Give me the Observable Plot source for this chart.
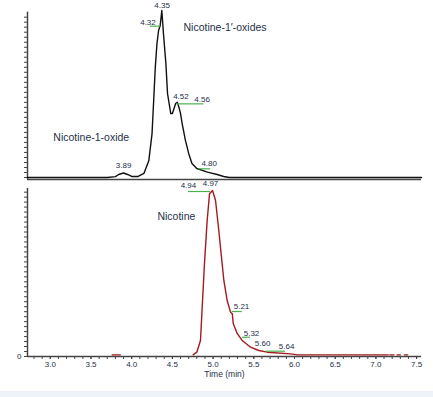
<!DOCTYPE html>
<html>
<head>
<meta charset="utf-8">
<script src="https://cdn.jsdelivr.net/npm/d3@7"></script>
<script src="https://cdn.jsdelivr.net/npm/@observablehq/plot@0.6"></script>
<style>
  html, body { margin: 0; padding: 0; background: #fff; }
  #wrap { position: relative; width: 433px; height: 397px; overflow: hidden; font-family: "Liberation Sans", Arial, sans-serif; }
  #top { position: absolute; left: 0; top: 0; }
  #bottom { position: absolute; left: 0; top: 182px; }
  #band { position: absolute; left: 0; top: 391px; width: 433px; height: 6px; background: #eef2f9; }
</style>
</head>
<body>
<div id="wrap">
  <div id="top"></div>
  <div id="bottom"></div>
  <div id="band"></div>
</div>
<script>
// ---- Data ----
// Upper trace: Nicotine N-oxides (relative intensity)
const topTime   = [2.72, 3.70, 3.80, 3.84, 3.90, 3.95, 4.00, 4.08, 4.15, 4.21, 4.25, 4.27, 4.29, 4.31, 4.33, 4.35, 4.37, 4.39, 4.42, 4.44, 4.48, 4.50, 4.54, 4.56, 4.58, 4.60, 4.62, 4.66, 4.70, 4.74, 4.80, 4.93, 5.05, 5.13, 5.20, 7.56];
const topSignal = [0, 0, 0.005, 0.018, 0.027, 0.018, 0.006, 0.006, 0.024, 0.10, 0.263, 0.461, 0.66, 0.80, 0.88, 0.91, 1.0, 0.862, 0.683, 0.503, 0.383, 0.383, 0.443, 0.451, 0.421, 0.383, 0.323, 0.222, 0.144, 0.084, 0.054, 0.032, 0.018, 0.006, 0, 0];

// Lower trace: Nicotine (relative intensity); null = gap in the trace
const bottomTime   = [3.76, 3.86, 3.87, 4.755, 4.80, 4.845, 4.866, 4.894, 4.927, 4.956, 4.993, 5.03, 5.07, 5.103, 5.132, 5.173, 5.214, 5.236, 5.247, 5.296, 5.358, 5.46, 5.562, 5.665, 5.95, 6.04, 7.15, 7.16, 7.17, 7.22, 7.23, 7.26, 7.30, 7.31, 7.35, 7.39];
const bottomSignal = [0.01, 0.01, null, 0.01, 0.026, 0.096, 0.297, 0.56, 0.819, 0.98, 1.0, 0.94, 0.759, 0.598, 0.458, 0.337, 0.267, 0.257, 0.199, 0.139, 0.096, 0.056, 0.036, 0.026, 0.016, 0.01, 0.01, null, 0.01, 0.01, null, 0.01, 0.01, null, 0.01, 0.01];

// Peak retention-time labels
const topPeakText = ["3.89", "4.32", "4.35", "4.52", "4.56", "4.80"];
const topPeakX    = [3.90, 4.20, 4.374, 4.605, 4.865, 4.952];
const topPeakY    = [0.072, 0.93, 1.03, 0.487, 0.467, 0.084];

const bottomPeakText = ["4.94", "4.97", "5.21", "5.32", "5.60", "5.64"];
const bottomPeakX    = [4.697, 4.968, 5.349, 5.472, 5.608, 5.903];
const bottomPeakY    = [1.03, 1.042, 0.301, 0.139, 0.08, 0.062];

// Green integration marks
const topMarkStart = [4.23, 4.558, 4.824];
const topMarkEnd   = [4.353, 4.886, 4.968];
const topMarkLevel = [0.906, 0.441, 0.052];

const bottomMarkStart = [4.697, 5.235, 5.358, 5.653];
const bottomMarkEnd   = [4.968, 5.358, 5.46, 5.89];
const bottomMarkLevel = [0.994, 0.271, 0.116, 0.032];

// Compound names
const topNames  = ["Nicotine-1′-oxides", "Nicotine-1-oxide"];
const topNameX  = [4.636, 3.037];
const topNameY  = [0.898, 0.24];
const bottomNames = ["Nicotine"];
const bottomNameX = [4.316];
const bottomNameY = [0.843];

// Axis ticks
const minorTicks = d3.range(28, 76).map(d => d / 10);
const majorTicks = [3.0, 3.5, 4.0, 4.5, 5.0, 5.5, 6.0, 6.5, 7.0, 7.5];
const xLabel = "Time (min)";

// ---- Drawing ----
const xDomain = [2.72, 7.56];
const axisColor = "#444";
const textColor = "#25304a";
const green = "#4caf50";
const yTickStep = 0.03;

const topPlot = Plot.plot({
  width: 433, height: 182,
  marginLeft: 27, marginRight: 12, marginTop: 10, marginBottom: 3,
  x: {domain: xDomain, axis: null},
  y: {domain: [-0.012, 1], axis: null},
  style: {fontFamily: "Liberation Sans, Arial, sans-serif", fontSize: "8px", background: "transparent", color: axisColor, overflow: "visible"},
  marks: [
    Plot.axisY({ticks: d3.range(0, 0.99, yTickStep), tickSize: 3, tickFormat: () => "", label: null, stroke: axisColor}),
    Plot.ruleX([xDomain[0]], {y1: -0.012, y2: 0.99, stroke: axisColor, strokeWidth: 1.5}),
    Plot.ruleY([-0.012], {stroke: axisColor, strokeWidth: 1.5}),
    Plot.line(topTime, {x: topTime, y: topSignal, stroke: "#111", strokeWidth: 1.4}),
    Plot.ruleY(topMarkLevel, {x1: topMarkStart, x2: topMarkEnd, y: topMarkLevel, stroke: green, strokeWidth: 1.2}),
    Plot.text(topPeakText, {x: topPeakX, y: topPeakY, text: d => d, fill: textColor, fontSize: 8}),
    Plot.text(topNames, {x: topNameX, y: topNameY, text: d => d, fill: textColor, fontSize: 10.5, textAnchor: "start"})
  ]
});
document.getElementById("top").append(topPlot);

const bottomPlot = Plot.plot({
  width: 433, height: 210,
  marginLeft: 27, marginRight: 12, marginTop: 8, marginBottom: 36,
  x: {domain: xDomain},
  y: {domain: [0, 1]},
  style: {fontFamily: "Liberation Sans, Arial, sans-serif", fontSize: "8px", background: "transparent", color: axisColor, overflow: "visible"},
  marks: [
    Plot.axisY({ticks: d3.range(0, 1.0, yTickStep), tickSize: 3, tickPadding: 3, tickFormat: (d, i) => i === 0 ? "0" : "", label: null, stroke: axisColor, fill: textColor}),
    Plot.axisX({ticks: minorTicks, tickSize: 3, tickFormat: () => "", label: null, stroke: axisColor}),
    Plot.axisX({ticks: majorTicks, tickSize: 3, tickPadding: 2, tickFormat: d3.format(".1f"), label: null, stroke: axisColor, fill: textColor}),
    Plot.ruleX([xDomain[0]], {y1: 0, y2: 1.012, stroke: axisColor, strokeWidth: 1.5}),
    Plot.ruleY([0], {stroke: axisColor, strokeWidth: 1.5}),
    Plot.line(bottomTime, {x: bottomTime, y: bottomSignal, stroke: "#a01c1c", strokeWidth: 1.4}),
    Plot.ruleY(bottomMarkLevel, {x1: bottomMarkStart, x2: bottomMarkEnd, y: bottomMarkLevel, stroke: green, strokeWidth: 1.2}),
    Plot.text(bottomPeakText, {x: bottomPeakX, y: bottomPeakY, text: d => d, fill: textColor, fontSize: 8}),
    Plot.text(bottomNames, {x: bottomNameX, y: bottomNameY, text: d => d, fill: textColor, fontSize: 10.5, textAnchor: "start"}),
    Plot.text([xLabel], {frameAnchor: "bottom", dy: 20.5, text: d => d, fill: textColor, fontSize: 8.5})
  ]
});
document.getElementById("bottom").append(bottomPlot);
</script>
</body>
</html>
